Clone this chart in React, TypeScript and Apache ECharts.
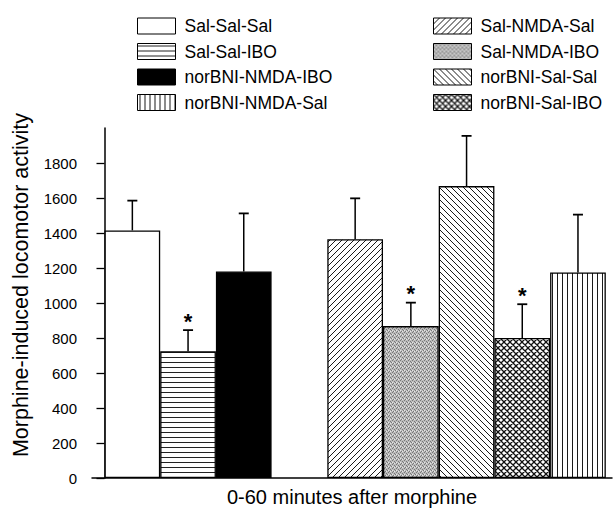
import React, { useEffect, useRef } from 'react';
import * as echarts from 'echarts';

const groups = ['Sal-Sal-Sal', 'Sal-Sal-IBO', 'norBNI-NMDA-IBO', 'Sal-NMDA-Sal', 'Sal-NMDA-IBO', 'norBNI-Sal-Sal', 'norBNI-Sal-IBO', 'norBNI-NMDA-Sal'];
const means = [1415, 725, 1180, 1365, 868, 1668, 800, 1175];
const sems = [170, 120, 332, 233, 134, 287, 193, 330];
const significant = [false, true, false, false, true, false, true, false];
const clusterSizes = [3, 5];
const legendLeft = ['Sal-Sal-Sal', 'Sal-Sal-IBO', 'norBNI-NMDA-IBO', 'norBNI-NMDA-Sal'];
const legendRight = ['Sal-NMDA-Sal', 'Sal-NMDA-IBO', 'norBNI-Sal-Sal', 'norBNI-Sal-IBO'];
const yTicks = [0, 200, 400, 600, 800, 1000, 1200, 1400, 1600, 1800];
const yTitle = 'Morphine-induced locomotor activity';
const xTitle = '0-60 minutes after morphine';

const FONT = 'Liberation Sans, Arial, Helvetica, sans-serif';

function tile(w: number, h: number, draw: (ctx: CanvasRenderingContext2D) => void) {
  const c = document.createElement('canvas');
  c.width = w;
  c.height = h;
  const ctx = c.getContext('2d') as CanvasRenderingContext2D;
  ctx.fillStyle = '#fff';
  ctx.fillRect(0, 0, w, h);
  draw(ctx);
  return { image: c.toDataURL(), repeat: 'repeat', imageWidth: w, imageHeight: h } as any;
}

function makePatterns(): Record<string, any> {
  const horiz = tile(8, 5, (ctx) => { ctx.fillStyle = '#222'; ctx.fillRect(0, 2, 8, 1); });
  const vert = tile(5, 8, (ctx) => { ctx.fillStyle = '#1a1a1a'; ctx.fillRect(2, 0, 1, 8); });
  const fwd = tile(6, 6, (ctx) => {
    ctx.strokeStyle = '#1a1a1a'; ctx.lineWidth = 1;
    ctx.beginPath();
    ctx.moveTo(0, 6); ctx.lineTo(6, 0);
    ctx.moveTo(-1, 1); ctx.lineTo(1, -1);
    ctx.moveTo(5, 7); ctx.lineTo(7, 5);
    ctx.stroke();
  });
  const back = tile(6, 6, (ctx) => {
    ctx.strokeStyle = '#1a1a1a'; ctx.lineWidth = 1;
    ctx.beginPath();
    ctx.moveTo(0, 0); ctx.lineTo(6, 6);
    ctx.moveTo(-1, 5); ctx.lineTo(1, 7);
    ctx.moveTo(5, -1); ctx.lineTo(7, 1);
    ctx.stroke();
  });
  const cross = tile(6, 6, (ctx) => {
    ctx.strokeStyle = '#111'; ctx.lineWidth = 1.3;
    ctx.beginPath();
    ctx.moveTo(0, 6); ctx.lineTo(6, 0);
    ctx.moveTo(-1, 1); ctx.lineTo(1, -1);
    ctx.moveTo(5, 7); ctx.lineTo(7, 5);
    ctx.moveTo(0, 0); ctx.lineTo(6, 6);
    ctx.moveTo(-1, 5); ctx.lineTo(1, 7);
    ctx.moveTo(5, -1); ctx.lineTo(7, 1);
    ctx.stroke();
  });
  const stipple = tile(4, 4, (ctx) => {
    ctx.fillStyle = '#bcbcbc'; ctx.fillRect(0, 0, 4, 4);
    ctx.fillStyle = '#777';
    ctx.fillRect(0, 0, 1, 1); ctx.fillRect(2, 1, 1, 1); ctx.fillRect(1, 3, 1, 1); ctx.fillRect(3, 2, 1, 1);
    ctx.fillStyle = '#e6e6e6';
    ctx.fillRect(2, 3, 1, 1); ctx.fillRect(0, 2, 1, 1);
  });
  return {
    'Sal-Sal-Sal': '#ffffff',
    'Sal-Sal-IBO': horiz,
    'norBNI-NMDA-IBO': '#000000',
    'Sal-NMDA-Sal': fwd,
    'Sal-NMDA-IBO': stipple,
    'norBNI-Sal-Sal': back,
    'norBNI-Sal-IBO': cross,
    'norBNI-NMDA-Sal': vert,
  };
}

// slot index of each bar: clusters separated by one empty slot
function slotPositions(): number[] {
  const out: number[] = [];
  let slot = 0;
  clusterSizes.forEach((n, ci) => {
    for (let k = 0; k < n; k++) out.push(slot++ + 0.5);
    if (ci < clusterSizes.length - 1) slot++;
  });
  return out;
}

export default function App() {
  const ref = useRef<HTMLDivElement>(null);
  useEffect(() => {
    if (!ref.current) return;
    const chart = echarts.init(ref.current, undefined, { renderer: 'svg' });
    const patterns = makePatterns();
    const xs = slotPositions();

    const barSeries = groups.map((g, i) => ({
      name: g,
      type: 'bar',
      barWidth: 55.7,
      barGap: '-100%',
      data: [[xs[i], means[i]]],
      itemStyle: { color: patterns[g], borderColor: '#000', borderWidth: 1.3 },
      z: 2,
    }));

    const errData = groups.map((g, i) => [xs[i], means[i], means[i] + sems[i], significant[i] ? 1 : 0]);

    const legendCommon = {
      orient: 'vertical',
      top: 12,
      itemWidth: 38,
      itemHeight: 16,
      itemGap: 7.5,
      icon: 'rect',
      selectedMode: false,
      itemStyle: { borderColor: '#000', borderWidth: 1 },
      textStyle: { fontSize: 17.5, color: '#000', fontFamily: FONT, lineHeight: 16, padding: [0, 0, 0, 4] },
    };

    chart.setOption({
      animation: false,
      backgroundColor: '#fff',
      textStyle: { fontFamily: FONT },
      legend: [
        { ...legendCommon, left: 132, data: legendLeft },
        { ...legendCommon, left: 428, data: legendRight },
      ],
      grid: { left: 92, right: 1, top: 128, bottom: 30, containLabel: false, outerBoundsMode: 'none' },
      xAxis: {
        type: 'value',
        min: -0.2244,
        max: 9.111,
        axisLine: { show: true, lineStyle: { color: '#000', width: 1.5 } },
        axisTick: { show: false },
        axisLabel: { show: false },
        splitLine: { show: false },
        name: xTitle,
        nameLocation: 'middle',
        nameGap: 9,
        nameTextStyle: { fontSize: 20, lineHeight: 20, color: '#000', fontFamily: FONT },
      },
      yAxis: {
        type: 'value',
        min: 0,
        max: 2000,
        interval: 200,
        axisLine: { show: true, lineStyle: { color: '#000', width: 1.5 } },
        axisTick: { show: true, length: 8, lineStyle: { color: '#000', width: 1.3 }, customValues: yTicks },
        axisLabel: {
          fontSize: 15, color: '#000', fontFamily: FONT, margin: 15, customValues: yTicks,
          formatter: (v: number) => String(v),
        },
        splitLine: { show: false },
        name: yTitle,
        nameLocation: 'middle',
        nameGap: 60,
        nameTextStyle: { fontSize: 21.5, color: '#000', fontFamily: FONT, padding: [0, 0, 0, 36] },
      },
      series: [
        ...barSeries,
        {
          type: 'custom',
          name: 'err',
          z: 5,
          silent: true,
          data: errData,
          renderItem: (params: any, api: any) => {
            const base = api.coord([api.value(0), api.value(1)]);
            const top = api.coord([api.value(0), api.value(2)]);
            const children: any[] = [
              { type: 'line', shape: { x1: base[0], y1: base[1], x2: top[0], y2: top[1] }, style: { stroke: '#000', lineWidth: 1.5 } },
              { type: 'line', shape: { x1: top[0] - 5, y1: top[1], x2: top[0] + 5, y2: top[1] }, style: { stroke: '#000', lineWidth: 1.8 } },
            ];
            if (api.value(3) === 1) {
              children.push({
                type: 'text',
                style: { text: '*', x: top[0], y: top[1] - 9, align: 'center', verticalAlign: 'middle', fontSize: 22, fontWeight: 'bold', fontFamily: FONT, fill: '#000' },
              });
            }
            return { type: 'group', children };
          },
        },
      ],
    } as any);
    return () => chart.dispose();
  }, []);
  return <div ref={ref} style={{ position: 'fixed', left: 0, top: 0, width: 613, height: 508 }} />;
}
